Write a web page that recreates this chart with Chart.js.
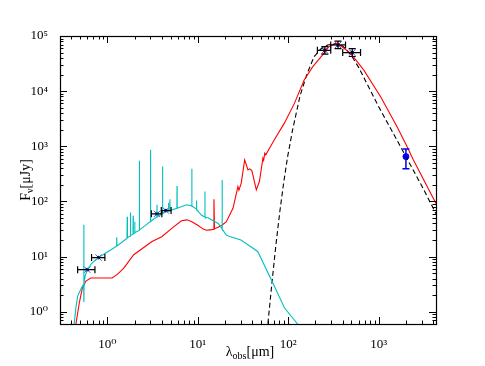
<!DOCTYPE html>
<html><head><meta charset="utf-8">
<script src="https://cdn.jsdelivr.net/npm/chart.js@4.4.1/dist/chart.umd.min.js"></script>
<style>html,body{margin:0;padding:0;background:#fff;}canvas{display:block;}</style>
</head><body>
<canvas id="c" width="485" height="366"></canvas>
<script>
// ---- tick labels ----
const xTickValues = [1, 10, 100, 1000];
const xTickLabels = ['10⁰', '10¹', '10²', '10³'];
const yTickValues = [1, 10, 100, 1000, 10000, 100000];
const yTickLabels = ['10⁰', '10¹', '10²', '10³', '10⁴', '10⁵'];

// ---- stellar (unattenuated) model, cyan ----
const cyanX = [0.43,0.45,0.47,0.50,0.53,0.548,0.55,0.552,0.554,0.57,0.60,0.67,0.74,0.85,0.96,1.1,1.26,1.27,1.28,1.5,
  1.65,1.66,1.67,1.79,1.80,1.81,1.92,1.93,1.94,2.00,2.01,2.02,2.25,2.26,2.27,2.6,2.98,3.0,3.02,3.5,3.54,3.56,
  4.06,4.08,4.10,4.73,4.75,4.77,4.9,4.92,4.94,5.88,5.9,5.92,7.5,8.58,8.6,8.62,9.68,9.7,9.72,11,11.98,12.0,12.02,
  13.1,16.8,18.55,18.6,18.65,20.7,22.5,30,46,66,91,127];
const cyanY = [0.60,1.2,1.9,2.4,2.9,3.2,38,1.5,3.4,4.5,5.8,7.5,8.7,10.2,11.6,13.3,15.4,22.5,15.6,19,
  21.5,53,22,23.5,63,24,25.5,55,26,26.5,43,27,30,550,30.5,36,43,860,43.5,52,87,52.5,
  60,430,60.5,67,95,67,68,110,68.5,75,190,75.5,87,83,390,82.5,73,104,72,56,52.5,151,52,
  50,40,32,246,31.5,24.5,23.2,20,12.4,3.6,1.17,0.6];

// ---- total model, red ----
const redX = [0.45,0.49,0.53,0.58,0.656,1.13,1.3,1.52,1.96,3.12,4.0,5.2,6.6,7.6,8.6,10,11.5,12.5,13.6,14.9,15.1,15.3,
  16.8,18.5,20.7,24.5,27.8,28.5,30.2,33,35.9,37.5,39.6,44.4,48,52.5,53.5,55,56.5,59,70,90.6,117,150,186,240,283,348,
  490,685,1050,1590,2050,2420,4300];
const redY = [0.6,1.44,2.7,3.6,4.1,4.1,4.8,6.2,10.8,18.8,23,32.8,44.6,46.4,43,37,31.5,30,30.5,31,110,32,
  34,37,43,75,186,160,213,566,374,390,364,162,230,610,560,750,700,800,1300,2630,6000,15900,27600,45600,64500,74000,
  48500,24000,7900,2280,1000,566,92];

// ---- dust modified blackbody, dashed black ----
const bbX = [59.6,65.9,72.9,80.7,89.3,98.8,112,135,161,193,229,273,335,400,500,600,700,1000,1500,2000,3000,4300];
const bbY = [0.61,3.2,15.7,65,226,670,2020,8200,20400,42200,58000,68700,73100,66000,44000,27000,16500,5200,1550,650,190,60];

// ---- photometry with horizontal error bars ----
const obsX   = [0.60, 0.80, 3.54, 4.44, 254, 355, 510];
const obsY   = [5.8, 9.6, 59.6, 68.4, 55000, 69000, 50000];
const obsXlo = [0.47, 0.67, 3.07, 3.95, 210, 295, 400];
const obsXhi = [0.73, 0.94, 4.01, 5.07, 295, 430, 630];
const obsYlo = [5.8, 9.6, 59.6, 68.4, 47000, 59000, 42500];
const obsYhi = [5.8, 9.6, 59.6, 68.4, 64000, 81000, 59000];

// ---- mm point with vertical error bar ----
const mmX = [2000];
const mmY = [650];
const mmYlo = [390];
const mmYhi = [890];

const pts = (xs, ys) => xs.map((x, i) => ({x: x, y: ys[i]}));

const SERIF = "'Liberation Serif', 'DejaVu Serif', serif";

const framePlugin = {
  id: 'frame',
  afterDatasetsDraw(chart) {
    const ctx = chart.ctx;
    const xs = chart.scales.x, ys = chart.scales.y;
    ctx.save();
    ctx.lineWidth = 1.2;
    ctx.strokeStyle = '#000';
    for (let i = 0; i < obsX.length; i++) {
      const x0 = xs.getPixelForValue(obsXlo[i]), x1 = xs.getPixelForValue(obsXhi[i]);
      const yc = ys.getPixelForValue(obsY[i]);
      const xc = xs.getPixelForValue(obsX[i]);
      ctx.beginPath();
      ctx.moveTo(x0, yc); ctx.lineTo(x1, yc);
      ctx.moveTo(x0, yc - 3.5); ctx.lineTo(x0, yc + 3.5);
      ctx.moveTo(x1, yc - 3.5); ctx.lineTo(x1, yc + 3.5);
      if (obsYlo[i] !== obsYhi[i]) {
        const y0 = ys.getPixelForValue(obsYlo[i]), y1 = ys.getPixelForValue(obsYhi[i]);
        ctx.moveTo(xc, y0); ctx.lineTo(xc, y1);
        ctx.moveTo(xc - 3.5, y0); ctx.lineTo(xc + 3.5, y0);
        ctx.moveTo(xc - 3.5, y1); ctx.lineTo(xc + 3.5, y1);
      }
      ctx.stroke();
    }
    ctx.strokeStyle = '#0000ee';
    ctx.lineWidth = 1.5;
    for (let i = 0; i < mmX.length; i++) {
      const xc = xs.getPixelForValue(mmX[i]);
      const y0 = ys.getPixelForValue(mmYlo[i]), y1 = ys.getPixelForValue(mmYhi[i]);
      ctx.beginPath();
      ctx.moveTo(xc, y0); ctx.lineTo(xc, y1);
      ctx.moveTo(xc - 3.5, y0); ctx.lineTo(xc + 3.5, y0);
      ctx.moveTo(xc - 3.5, y1); ctx.lineTo(xc + 3.5, y1);
      ctx.stroke();
    }
    ctx.restore();
  },
  afterDraw(chart) {
    const ctx = chart.ctx, a = chart.chartArea;
    const xs = chart.scales.x, ys = chart.scales.y;
    ctx.save();
    ctx.strokeStyle = '#000';
    ctx.lineWidth = 1;
    ctx.beginPath();
    for (let d = -1; d <= 4; d++) {
      for (let m = 1; m <= 9; m++) {
        const v = m * Math.pow(10, d);
        if (v < xs.min || v > xs.max) continue;
        const px = Math.round(xs.getPixelForValue(v)) + 0.5;
        const len = m === 1 ? 7 : 3.5;
        ctx.moveTo(px, a.bottom); ctx.lineTo(px, a.bottom - len);
        ctx.moveTo(px, a.top); ctx.lineTo(px, a.top + len);
      }
    }
    for (let d = -1; d <= 5; d++) {
      for (let m = 1; m <= 9; m++) {
        const v = m * Math.pow(10, d);
        if (v < ys.min || v > ys.max) continue;
        const py = Math.round(ys.getPixelForValue(v)) + 0.5;
        const len = m === 1 ? 7 : 3.5;
        ctx.moveTo(a.left, py); ctx.lineTo(a.left + len, py);
        ctx.moveTo(a.right, py); ctx.lineTo(a.right - len, py);
      }
    }
    ctx.stroke();
    ctx.lineWidth = 1.2;
    ctx.strokeRect(Math.round(a.left) + 0.5, Math.round(a.top) + 0.5, Math.round(a.right - a.left), Math.round(a.bottom - a.top));
    // axis titles
    ctx.fillStyle = '#000';
    ctx.textBaseline = 'alphabetic';
    const big = '14px ' + SERIF, small = '10px ' + SERIF;
    const parts = [['λ', big, 0], ['obs', small, 3], ['[μm]', big, 0]];
    let w = 0;
    parts.forEach(p => { ctx.font = p[1]; w += ctx.measureText(p[0]).width; });
    let x = (a.left + a.right) / 2 - w / 2 + 2;
    const yb = 356;
    parts.forEach(p => { ctx.font = p[1]; ctx.fillText(p[0], x, yb + p[2]); x += ctx.measureText(p[0]).width; });
    ctx.translate(30, (a.top + a.bottom) / 2);
    ctx.rotate(-Math.PI / 2);
    const yparts = [['F', big, 0], ['ν', small, 3], ['[μJy]', big, 0]];
    w = 0;
    yparts.forEach(p => { ctx.font = p[1]; w += ctx.measureText(p[0]).width; });
    x = -w / 2;
    yparts.forEach(p => { ctx.font = p[1]; ctx.fillText(p[0], x, p[2]); x += ctx.measureText(p[0]).width; });
    ctx.restore();
  }
};

new Chart(document.getElementById('c'), {
  type: 'scatter',
  data: {
    datasets: [
      { data: pts(cyanX, cyanY), showLine: true, borderColor: '#00bfbf', borderWidth: 1.1, pointRadius: 0, tension: 0 },
      { data: pts(redX, redY), showLine: true, borderColor: '#ff0000', borderWidth: 1.1, pointRadius: 0, tension: 0 },
      { data: pts(bbX, bbY), showLine: true, borderColor: '#000000', borderWidth: 1.1, borderDash: [5, 3], pointRadius: 0, tension: 0 },
      { data: pts(obsX, obsY), showLine: false, pointStyle: 'circle', pointRadius: 1.8, backgroundColor: '#000080', borderColor: '#000080', borderWidth: 0 },
      { data: pts(obsX, obsY), showLine: false, pointStyle: 'crossRot', pointRadius: 4.5, borderColor: '#4a4aff', borderWidth: 1 },
      { data: pts(mmX, mmY), showLine: false, pointStyle: 'circle', pointRadius: 3, backgroundColor: '#0000ee', borderColor: '#0000ee' }
    ]
  },
  options: {
    responsive: false,
    animation: false,
    devicePixelRatio: 1,
    layout: { padding: { left: 0, right: 49, top: 36, bottom: 0 } },
    plugins: { legend: { display: false }, tooltip: { enabled: false } },
    scales: {
      x: {
        type: 'logarithmic', min: 0.32, max: 4300,
        grid: { display: false }, border: { display: false },
        afterBuildTicks: s => { s.ticks = xTickValues.map(v => ({ value: v })); },
        afterFit: s => { s.height = 42; },
        ticks: {
          autoSkip: false, maxRotation: 0, padding: 5, color: '#000',
          font: { family: SERIF, size: 13 },
          callback: v => { const i = xTickValues.indexOf(v); return i >= 0 ? xTickLabels[i] : ''; }
        }
      },
      y: {
        type: 'logarithmic', min: 0.61, max: 100000,
        grid: { display: false }, border: { display: false },
        afterBuildTicks: s => { s.ticks = yTickValues.map(v => ({ value: v })); },
        afterFit: s => { s.width = 60; },
        ticks: {
          autoSkip: false, padding: 4, color: '#000',
          font: { family: SERIF, size: 13 },
          callback: v => { const i = yTickValues.indexOf(v); return i >= 0 ? yTickLabels[i] : ''; }
        }
      }
    }
  },
  plugins: [framePlugin]
});
</script>
</body></html>
